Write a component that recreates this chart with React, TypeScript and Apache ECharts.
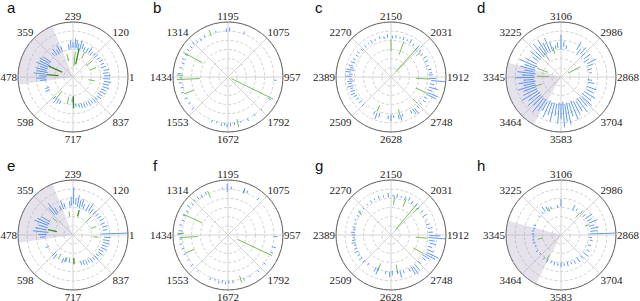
import React, { useEffect, useRef } from 'react';
import * as echarts from 'echarts';

// ---- tick labels (angle axis, counter-clockwise from 0°, every 45°) ----
const labelsAE = ['1', '120', '239', '359', '478', '598', '717', '837'];
const labelsBF = ['957', '1075', '1195', '1314', '1434', '1553', '1672', '1792'];
const labelsCG = ['1912', '2031', '2150', '2270', '2389', '2509', '2628', '2748'];
const labelsDH = ['2868', '2986', '3106', '3225', '3345', '3464', '3583', '3704'];

const panelLetters = ['a', 'b', 'c', 'd', 'e', 'f', 'g', 'h'];

// ---- spikes: [angle (deg), inner radius, outer radius] (radius: 0..6) ----
const blueA = [
  [112, 3.0, 3.6], [117, 3.1, 3.9], [121, 2.9, 3.5], [126, 3.0, 3.8], [131, 3.1, 3.5],
  [98, 3.0, 3.6], [94, 3.1, 4.0], [90, 3.2, 3.8], [86, 3.1, 4.2], [83, 3.2, 4.0], [80, 3.0, 3.7], [76, 3.1, 4.1], [72, 3.2, 3.8], [68, 3.0, 3.5],
  [62, 3.0, 3.6], [57, 3.1, 3.9], [52, 3.0, 3.5], [47, 3.2, 3.6], [42, 3.1, 3.7],
  [36, 3.2, 3.6], [30, 3.3, 3.8], [24, 3.3, 3.7], [18, 3.2, 3.8], [12, 3.4, 4.0], [7, 3.3, 3.9], [2, 3.4, 4.1], [357, 3.3, 4.0], [352, 3.4, 4.2], [347, 3.3, 4.0], [342, 3.4, 4.1], [337, 3.3, 3.9], [332, 3.3, 4.0], [327, 3.2, 3.8], [322, 3.3, 3.9], [317, 3.2, 3.7], [312, 3.2, 3.8], [307, 3.2, 3.6], [302, 3.1, 3.7], [297, 3.1, 3.5], [292, 3.1, 3.6], [287, 3.0, 3.5], [282, 3.0, 3.4], [276, 2.9, 3.3],
  [146, 2.9, 3.9], [150, 3.0, 4.2], [154, 2.8, 4.0], [158, 3.0, 4.3], [162, 2.9, 3.8], [166, 3.0, 4.2], [170, 2.8, 4.0], [174, 3.0, 4.3], [178, 2.9, 3.7], [182, 3.0, 4.0], [186, 2.9, 3.6],
  [203, 2.8, 3.3], [208, 2.9, 3.4], [228, 2.8, 3.3], [233, 2.9, 3.5], [238, 2.8, 3.4], [243, 2.9, 3.3], [268, 2.3, 2.8],
];
const greenStrongA = [[78, 1.4, 3.2], [156, 1.3, 2.9], [175, 1.6, 2.9], [271, 2.1, 3.4]];
const greenWeakA = [[85, 1.2, 2.8], [40, 1.9, 2.8], [22, 2.0, 2.7], [350, 1.7, 2.4], [232, 2.0, 3.0], [258, 2.2, 3.0], [105, 1.8, 2.6], [65, 2.2, 3.0]];

const blueB = [
  [92, 4.9, 5.3], [88, 5.0, 5.4], [70, 5.0, 5.3], [105, 5.0, 5.2],
  [120, 5.0, 5.3], [126, 4.9, 5.2], [131, 5.0, 5.3], [136, 5.1, 5.4], [141, 5.0, 5.3], [146, 5.1, 5.4], [152, 5.0, 5.3], [158, 5.1, 5.4], [163, 5.0, 5.3], [169, 5.1, 5.4],
  [176, 5.1, 5.5], [181, 5.0, 5.3], [187, 5.1, 5.4], [193, 5.0, 5.3], [199, 5.1, 5.4], [207, 5.0, 5.3], [214, 5.0, 5.2], [222, 5.0, 5.3],
  [250, 5.0, 5.3], [256, 5.0, 5.2], [262, 5.1, 5.4], [266, 5.0, 5.3], [269, 5.1, 5.5], [273, 5.0, 5.4], [278, 5.0, 5.3], [286, 5.0, 5.2], [295, 5.0, 5.3], [305, 4.9, 5.2], [316, 5.0, 5.2], [332, 5.0, 5.3], [356, 5.0, 5.3],
];
const greenStrongB: number[][] = [];
const greenWeakB = [[334, 0.4, 5.5], [151, 3.2, 5.6], [183, 3.1, 5.6], [178, 4.9, 5.6], [201, 4.0, 5.1], [282, 4.7, 5.6], [112, 4.8, 5.5]];

const blueC = [
  [130, 4.2, 4.5], [124, 4.3, 4.5], [119, 4.2, 4.6], [113, 4.3, 4.5], [106, 4.3, 4.6], [100, 4.2, 4.5], [95, 4.3, 4.7], [88, 4.2, 4.5], [83, 4.3, 4.6], [77, 4.3, 4.5], [72, 4.2, 4.6], [66, 4.3, 4.5], [61, 4.2, 4.7], [55, 4.1, 4.4], [48, 4.0, 4.6], [42, 4.1, 4.4], [36, 4.0, 4.3], [30, 4.1, 4.5], [24, 4.0, 4.4], [17, 4.0, 4.3], [11, 4.1, 4.5],
  [137, 4.2, 4.5], [143, 4.3, 4.6], [148, 4.2, 4.5], [154, 4.3, 4.6], [159, 4.2, 4.7],
  [164, 4.3, 4.8], [167, 4.2, 4.6], [170, 4.1, 4.9], [173, 4.4, 5.0], [176, 4.2, 4.6], [179, 4.3, 5.0], [183, 4.2, 4.6], [186, 4.1, 4.8], [189, 4.3, 4.7], [193, 4.2, 4.9], [196, 4.3, 4.6], [200, 4.2, 4.7], [204, 4.3, 4.8], [208, 4.2, 4.6], [213, 4.2, 4.5], [219, 4.1, 4.5], [225, 4.2, 4.5],
  [245, 4.1, 4.5], [249, 4.2, 4.9], [253, 4.1, 4.6], [266, 4.2, 4.6], [270, 4.1, 4.8], [274, 4.2, 4.5], [281, 4.2, 4.7], [284, 4.3, 4.9], [287, 4.2, 4.5],
  [300, 4.2, 4.6], [304, 4.2, 4.9], [307, 4.3, 5.0], [312, 4.2, 4.6], [318, 4.2, 4.5], [324, 4.3, 4.7], [329, 4.2, 4.6], [334, 4.3, 5.5], [337, 4.4, 5.6], [341, 4.2, 4.8], [345, 4.3, 5.3], [350, 4.3, 4.8], [355, 4.4, 5.9], [358, 4.2, 4.9], [3, 4.1, 4.6], [6, 4.2, 4.5],
];
const greenStrongC: number[][] = [];
const greenWeakC = [[48, 0.8, 4.3], [90, 2.8, 4.1], [70, 2.6, 4.1], [357, 2.7, 4.3], [336, 3.0, 4.4], [248, 3.3, 4.0], [283, 3.6, 4.3], [40, 3.6, 4.2], [315, 3.4, 4.0]];

const blueD = [
  [60, 3.4, 4.4], [55, 3.0, 3.8], [50, 3.3, 4.2], [45, 3.1, 3.7], [38, 3.2, 4.0], [33, 3.0, 3.6], [27, 3.2, 4.3], [22, 3.1, 3.8], [15, 3.0, 3.5], [8, 3.1, 3.4], [354, 2.9, 3.4], [349, 3.0, 3.7],
  [90, 3.0, 4.6], [85, 3.3, 3.9], [80, 3.1, 3.5], [96, 3.2, 3.8], [100, 3.1, 3.5],
  [108, 3.0, 4.0], [113, 2.9, 4.6], [118, 3.1, 4.2], [122, 2.9, 4.8], [126, 3.0, 4.1], [130, 2.8, 4.7], [135, 3.0, 3.9], [140, 2.9, 4.4], [145, 3.1, 3.8],
  [152, 3.0, 4.4], [157, 2.8, 4.9], [161, 3.0, 4.2], [165, 2.9, 4.6], [169, 3.1, 4.0], [173, 2.8, 4.8], [177, 3.0, 4.3], [181, 2.9, 5.0], [185, 3.0, 4.1], [189, 2.8, 4.7], [193, 3.0, 4.2], [197, 2.9, 4.9], [201, 3.0, 4.4],
  [206, 2.9, 4.6], [211, 3.0, 5.0], [216, 2.8, 4.4], [221, 3.0, 4.8], [226, 2.9, 4.3], [231, 3.0, 4.9], [236, 2.9, 4.5], [241, 3.1, 4.2], [246, 2.8, 4.8], [251, 3.0, 4.4], [256, 2.9, 5.0], [261, 3.0, 4.3], [266, 2.8, 5.1], [270, 2.9, 4.6], [274, 2.7, 5.5], [278, 3.0, 4.9], [282, 2.9, 5.3], [287, 3.0, 4.5], [292, 2.8, 5.0], [297, 3.0, 4.6], [302, 3.1, 4.4], [307, 2.9, 4.8], [312, 3.0, 4.3], [317, 3.1, 4.6], [322, 2.9, 4.2], [328, 3.0, 4.4], [334, 3.1, 3.9], [340, 3.0, 4.1],
];
const greenStrongD: number[][] = [];
const greenWeakD = [[28, 0.9, 2.4], [125, 2.2, 3.2], [160, 1.5, 2.8], [178, 1.3, 2.6], [105, 2.6, 3.4], [200, 2.2, 3.0]];

const blueE = [
  [89, 3.4, 5.2], [93, 3.2, 4.2], [96, 3.1, 3.7], [85, 3.3, 4.0], [81, 3.1, 4.4], [77, 3.0, 3.9], [73, 3.2, 4.1], [69, 3.0, 3.6],
  [110, 3.0, 4.0], [106, 3.1, 3.6], [115, 3.0, 3.5],
  [128, 2.8, 4.4], [132, 3.0, 3.9], [124, 2.9, 3.6],
  [62, 3.0, 3.8], [57, 3.1, 4.1], [52, 3.0, 3.6], [46, 3.1, 3.7], [40, 3.2, 3.6],
  [34, 3.2, 3.7], [28, 3.3, 3.8], [21, 3.2, 3.7], [15, 3.3, 3.9], [9, 3.3, 3.8], [2, 3.1, 6.0], [356, 3.4, 4.1], [351, 3.3, 4.0], [346, 3.4, 4.1], [341, 3.3, 3.9], [336, 3.3, 4.0], [331, 3.2, 3.8], [326, 3.3, 3.9], [321, 3.2, 3.7], [316, 3.2, 3.8], [311, 3.2, 3.6], [306, 3.1, 3.7], [301, 3.1, 3.5], [296, 3.1, 3.6], [291, 3.0, 3.5], [286, 3.0, 3.4],
  [150, 2.9, 4.0], [155, 2.8, 4.3], [159, 3.0, 4.5], [164, 2.9, 3.9], [169, 3.0, 4.2], [174, 2.7, 4.4], [179, 2.9, 3.8], [184, 3.0, 3.6],
  [205, 2.9, 3.3], [225, 2.6, 3.2], [230, 2.7, 3.4], [248, 2.7, 3.3], [253, 2.6, 3.1], [262, 2.5, 3.0],
];
const greenStrongE = [[76, 2.1, 2.8], [168, 1.8, 2.8], [272, 2.5, 3.2]];
const greenWeakE = [[100, 2.0, 2.6], [45, 2.0, 2.8], [20, 2.1, 2.7], [355, 2.2, 2.8], [238, 2.4, 3.1], [255, 2.5, 3.0], [140, 2.2, 2.9]];

const blueF = [
  [91, 4.7, 5.6], [86, 5.0, 5.3], [97, 5.0, 5.2], [70, 4.9, 5.4], [66, 5.0, 5.3], [50, 5.0, 5.3],
  [118, 5.0, 5.3], [124, 4.9, 5.3], [129, 5.0, 5.4], [134, 5.1, 5.4], [139, 5.0, 5.3], [144, 5.1, 5.5], [150, 5.0, 5.3], [156, 5.1, 5.4], [162, 5.0, 5.3], [168, 5.1, 5.4],
  [175, 5.0, 5.4], [179, 5.1, 5.5], [185, 5.0, 5.3], [191, 5.1, 5.4], [197, 5.0, 5.3], [204, 5.0, 5.3], [212, 5.0, 5.2], [220, 5.0, 5.3], [230, 5.0, 5.2],
  [248, 5.0, 5.3], [254, 5.0, 5.2], [259, 5.1, 5.4], [263, 5.0, 5.3], [267, 5.1, 5.4], [271, 5.0, 5.3], [276, 5.0, 5.3], [290, 5.0, 5.3], [298, 5.0, 5.2], [310, 5.0, 5.3], [322, 4.9, 5.2], [338, 5.0, 5.3], [345, 5.0, 5.4], [358, 5.0, 5.4],
];
const greenStrongF: number[][] = [];
const greenWeakF = [[335, 1.1, 5.3], [155, 3.1, 5.4], [183, 3.3, 5.3], [178, 4.8, 5.5], [203, 4.0, 5.0], [286, 4.6, 5.4], [115, 4.5, 5.3], [70, 4.8, 5.4]];

const blueG = [
  [128, 4.1, 4.3], [121, 4.1, 4.4], [115, 4.2, 4.4], [108, 4.1, 4.5], [101, 4.2, 4.4], [94, 4.1, 4.6], [87, 4.2, 4.4], [81, 4.1, 4.5], [75, 4.2, 4.4], [69, 4.1, 4.5], [63, 4.2, 4.6], [57, 4.0, 4.4], [50, 4.1, 4.5], [44, 4.0, 4.3], [37, 4.1, 4.4], [30, 4.0, 4.5], [23, 4.1, 4.3], [16, 4.0, 4.4], [10, 4.1, 4.6],
  [136, 4.1, 4.3], [143, 4.1, 4.4], [150, 4.0, 4.3], [157, 4.1, 4.3], [163, 4.0, 4.2],
  [168, 4.0, 4.3], [172, 3.9, 4.2], [176, 4.0, 4.4], [180, 3.9, 4.3], [184, 4.0, 4.2], [188, 3.9, 4.3], [192, 4.0, 4.4], [196, 3.9, 4.2], [201, 4.0, 4.3], [206, 4.0, 4.4], [212, 4.0, 4.3], [218, 4.0, 4.4], [224, 4.0, 4.3], [232, 3.9, 4.2],
  [245, 3.9, 4.4], [249, 3.8, 4.6], [262, 4.0, 4.3], [268, 4.0, 4.6], [272, 3.9, 4.4], [280, 4.0, 4.3], [284, 4.0, 4.8], [289, 4.1, 4.4],
  [298, 4.1, 4.5], [302, 4.1, 5.0], [305, 4.2, 5.2], [309, 4.1, 4.9], [316, 4.1, 4.5], [324, 4.2, 4.7], [328, 4.1, 4.9], [331, 4.2, 5.5], [334, 4.3, 5.8], [338, 4.2, 5.0], [343, 4.2, 4.7], [348, 4.3, 5.0], [352, 4.2, 4.8], [356, 4.1, 6.0], [359, 4.2, 5.4], [4, 4.1, 4.6],
];
const greenStrongG: number[][] = [];
const greenWeakG = [[50, 0.8, 4.4], [85, 3.3, 4.3], [67, 3.3, 4.3], [355, 2.7, 4.0], [330, 2.8, 4.1], [250, 3.3, 4.2], [280, 3.3, 4.3], [145, 3.9, 4.4], [45, 3.4, 4.2]];

const blueH = [
  [2, 3.1, 5.9], [7, 3.2, 4.0], [12, 3.3, 4.2], [17, 3.2, 3.8], [23, 3.3, 4.3], [28, 3.2, 3.8], [34, 3.2, 4.1], [40, 3.1, 3.5], [48, 3.1, 3.6], [58, 3.1, 3.4], [65, 3.0, 3.6],
  [90, 3.1, 3.9], [97, 3.0, 3.3], [110, 3.0, 3.3], [118, 3.0, 3.5], [124, 3.1, 3.7], [130, 3.0, 3.3], [140, 3.0, 3.2],
  [160, 2.9, 3.2], [166, 2.9, 3.1], [172, 3.0, 3.2], [178, 2.9, 3.2], [184, 2.9, 3.1], [190, 3.0, 3.2], [196, 2.9, 3.2], [204, 2.9, 3.1], [214, 3.0, 3.3], [222, 3.0, 3.2],
  [234, 3.0, 3.3], [242, 3.0, 3.4], [250, 3.0, 3.3], [257, 3.0, 3.4], [264, 3.1, 3.4], [270, 3.0, 3.5], [276, 3.1, 3.4], [283, 3.0, 3.5], [290, 3.1, 3.4], [297, 3.1, 3.5], [305, 3.0, 3.6], [313, 3.1, 3.5], [322, 3.1, 3.8], [330, 3.2, 3.6], [340, 3.1, 3.5], [350, 3.2, 3.5], [355, 3.1, 3.4],
];
const greenStrongH: number[][] = [];
const greenWeakH = [[50, 2.5, 3.1], [190, 2.0, 2.6], [240, 2.5, 3.1], [115, 2.8, 3.3], [20, 2.8, 3.3]];

// shaded sectors [from angle, to angle] (null = none)
const sectorA = [112, 188];
const sectorD = [165, 240];
const sectorE = [112, 188];
const sectorH = [165, 243];

const panels = [
  { labels: labelsAE, blue: blueA, gs: greenStrongA, gw: greenWeakA, sector: sectorA },
  { labels: labelsBF, blue: blueB, gs: greenStrongB, gw: greenWeakB, sector: null },
  { labels: labelsCG, blue: blueC, gs: greenStrongC, gw: greenWeakC, sector: null },
  { labels: labelsDH, blue: blueD, gs: greenStrongD, gw: greenWeakD, sector: sectorD },
  { labels: labelsAE, blue: blueE, gs: greenStrongE, gw: greenWeakE, sector: sectorE },
  { labels: labelsBF, blue: blueF, gs: greenStrongF, gw: greenWeakF, sector: null },
  { labels: labelsCG, blue: blueG, gs: greenStrongG, gw: greenWeakG, sector: null },
  { labels: labelsDH, blue: blueH, gs: greenStrongH, gw: greenWeakH, sector: sectorH },
];

// layout
const centersX = [73, 228, 391, 561];
const centersY = [77, 235];
const letterX = [7, 153, 315, 477];
const letterY = [0, 158];
const RADIUS = 55;

const BLUE = '#3580f5';
const GREEN_STRONG = '#3b8a1f';
const GREEN_WEAK = '#7cbb58';
const SERIF = "'Liberation Serif', 'Times New Roman', 'DejaVu Serif', serif";

function spikeSeries(data: number[][], idx: number, color: string, width: number) {
  return {
    type: 'custom',
    coordinateSystem: 'polar',
    polarIndex: idx,
    silent: true,
    z: 3,
    data: data.map(([a, r0, r1]) => [r0, a, r1]),
    renderItem: (params: any, api: any) => {
      const p0 = api.coord([api.value(0), api.value(1)]);
      const p1 = api.coord([api.value(2), api.value(1)]);
      return {
        type: 'line',
        shape: { x1: p0[0], y1: p0[1], x2: p1[0], y2: p1[1] },
        style: { stroke: color, lineWidth: width },
      };
    },
  };
}

function sectorSeries(sector: number[], idx: number) {
  return {
    type: 'custom',
    coordinateSystem: 'polar',
    polarIndex: idx,
    silent: true,
    z: 1,
    data: [[0, sector[0], sector[1]]],
    renderItem: (params: any, api: any) => {
      const cs = params.coordSys;
      const a1 = api.value(1);
      const a2 = api.value(2);
      return {
        type: 'sector',
        shape: {
          cx: cs.cx, cy: cs.cy, r0: 0, r: cs.r,
          startAngle: (-a2 * Math.PI) / 180,
          endAngle: (-a1 * Math.PI) / 180,
          clockwise: true,
        },
        style: { fill: 'rgba(170,158,192,0.3)' },
      };
    },
  };
}

export default function App() {
  const ref = useRef<HTMLDivElement>(null);
  useEffect(() => {
    document.body.style.margin = '0';
    if (!ref.current) return;
    const chart = echarts.init(ref.current, undefined, { renderer: 'svg' });
    const polar: any[] = [];
    const angleAxis: any[] = [];
    const radiusAxis: any[] = [];
    const series: any[] = [];
    panels.forEach((p, i) => {
      const cx = centersX[i % 4];
      const cy = centersY[Math.floor(i / 4)];
      polar.push({ center: [cx, cy], radius: RADIUS });
      angleAxis.push({
        polarIndex: i,
        type: 'value',
        min: 0,
        max: 360,
        interval: 45,
        startAngle: 0,
        clockwise: false,
        axisLine: { show: true, lineStyle: { color: '#666', width: 1 } },
        axisTick: { show: false },
        splitLine: { show: true, lineStyle: { color: '#d4d4d4', width: 1 } },
        axisLabel: {
          margin: 1,
          color: '#222',
          fontFamily: SERIF,
          fontSize: 11,
          formatter: (v: number) => p.labels[Math.round(v / 45) % 8],
        },
      });
      radiusAxis.push({
        polarIndex: i,
        type: 'value',
        min: 0,
        max: 6,
        interval: 1,
        axisLine: { show: false },
        axisTick: { show: false },
        axisLabel: { show: false },
        splitLine: { show: true, lineStyle: { color: '#c4c4c4', width: 0.8, type: [3, 2] } },
      });
      if (p.sector) series.push(sectorSeries(p.sector, i));
      series.push(spikeSeries(p.gw, i, GREEN_WEAK, 1));
      series.push(spikeSeries(p.blue, i, BLUE, 0.8));
      series.push(spikeSeries(p.gs, i, GREEN_STRONG, 1.3));
    });
    const graphic = panelLetters.map((l, i) => ({
      type: 'text',
      x: letterX[i % 4],
      y: letterY[Math.floor(i / 4)],
      style: {
        text: l,
        fontSize: 15,
        fontFamily: 'Liberation Sans',
        fill: '#111',
        verticalAlign: 'top',
        textVerticalAlign: 'top',
      },
    }));
    chart.setOption({
      animation: false,
      backgroundColor: '#fff',
      polar,
      angleAxis,
      radiusAxis,
      series,
      graphic,
    });
    return () => chart.dispose();
  }, []);
  return <div ref={ref} style={{ width: 640, height: 301 }} />;
}
